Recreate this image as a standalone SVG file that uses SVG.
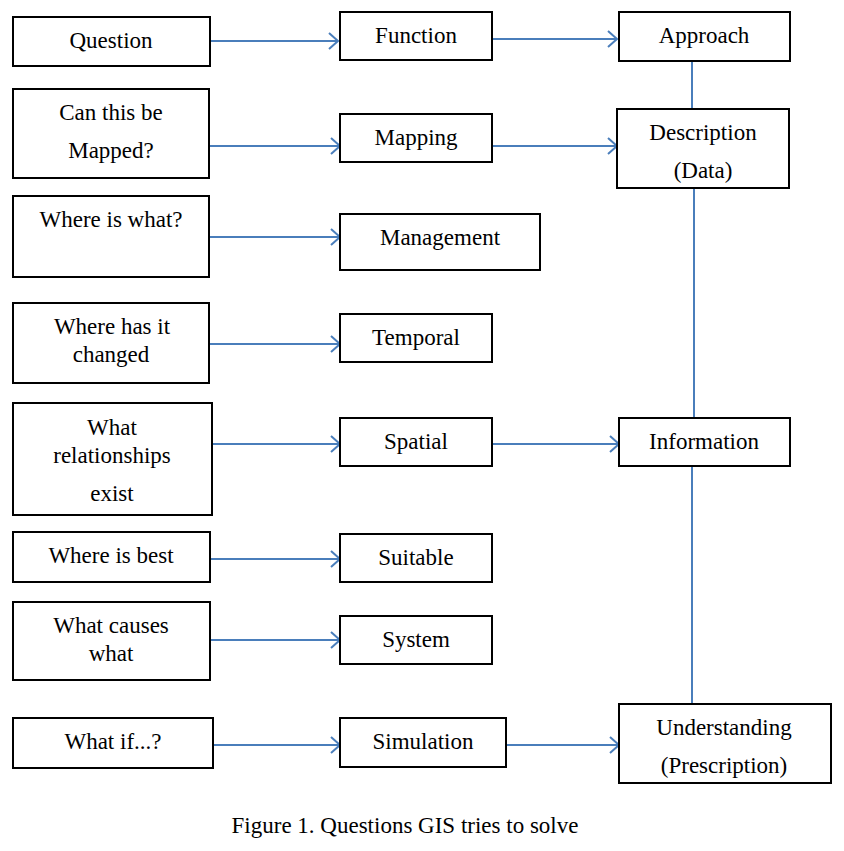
<svg xmlns="http://www.w3.org/2000/svg" width="844" height="851" viewBox="0 0 844 851">
<style>
.n rect{fill:#fff;stroke:#000;stroke-width:2}
text{font-family:"Liberation Serif",serif;font-size:23px;fill:#000;text-anchor:middle}
.c line{stroke:#4a7ebb;stroke-width:2;fill:none}
</style>
<defs>
<marker id="a" markerWidth="14" markerHeight="20" refX="11" refY="10" orient="auto" markerUnits="userSpaceOnUse">
<path d="M2,2 L11,10 L2,18" fill="none" stroke="#4a7ebb" stroke-width="2"/>
</marker>
</defs>
<rect width="844" height="851" fill="#fff"/>
<g class="c">
<line x1="210" y1="41" x2="338" y2="41" marker-end="url(#a)"/>
<line x1="488" y1="39" x2="617" y2="39" marker-end="url(#a)"/>
<line x1="209" y1="146" x2="340" y2="146" marker-end="url(#a)"/>
<line x1="492" y1="146" x2="617" y2="146" marker-end="url(#a)"/>
<line x1="209" y1="237" x2="340" y2="237" marker-end="url(#a)"/>
<line x1="209" y1="344" x2="340" y2="344" marker-end="url(#a)"/>
<line x1="212" y1="444" x2="340" y2="444" marker-end="url(#a)"/>
<line x1="492" y1="444" x2="619" y2="444" marker-end="url(#a)"/>
<line x1="210" y1="559" x2="340" y2="559" marker-end="url(#a)"/>
<line x1="210" y1="640" x2="340" y2="640" marker-end="url(#a)"/>
<line x1="213" y1="745" x2="340" y2="745" marker-end="url(#a)"/>
<line x1="506" y1="745" x2="619" y2="745" marker-end="url(#a)"/>
<line x1="692" y1="61" x2="692" y2="109"/>
<line x1="694" y1="188" x2="694" y2="418"/>
<line x1="692" y1="466" x2="692" y2="704"/>
</g>
<g class="n">
<g id="question"><rect x="13" y="17" width="197" height="49"/><text x="111" y="48">Question</text></g>
<g id="function"><rect x="340" y="12" width="152" height="48"/><text x="416" y="43">Function</text></g>
<g id="approach"><rect x="619" y="12" width="171" height="49"/><text x="704" y="43">Approach</text></g>
<g id="mapped"><rect x="13" y="89" width="196" height="89"/><text x="111" y="120">Can this be</text><text x="111" y="158">Mapped?</text></g>
<g id="mapping"><rect x="340" y="114" width="152" height="48"/><text x="416" y="145">Mapping</text></g>
<g id="description"><rect x="617" y="109" width="172" height="79"/><text x="703" y="140">Description</text><text x="703" y="178">(Data)</text></g>
<g id="whereiswhat"><rect x="13" y="196" width="196" height="81"/><text x="111" y="227">Where is what?</text></g>
<g id="management"><rect x="340" y="214" width="200" height="56"/><text x="440" y="245">Management</text></g>
<g id="changed"><rect x="13" y="303" width="196" height="80"/><text x="112" y="334">Where has it</text><text x="111" y="362">changed</text></g>
<g id="temporal"><rect x="340" y="314" width="152" height="48"/><text x="416" y="345">Temporal</text></g>
<g id="relationships"><rect x="13" y="403" width="199" height="112"/><text x="112" y="435">What</text><text x="112" y="463">relationships</text><text x="112" y="501">exist</text></g>
<g id="spatial"><rect x="340" y="418" width="152" height="48"/><text x="416" y="449">Spatial</text></g>
<g id="information"><rect x="619" y="418" width="171" height="48"/><text x="704" y="449">Information</text></g>
<g id="best"><rect x="13" y="532" width="197" height="50"/><text x="111" y="563">Where is best</text></g>
<g id="suitable"><rect x="340" y="534" width="152" height="48"/><text x="416" y="565">Suitable</text></g>
<g id="causes"><rect x="13" y="602" width="197" height="78"/><text x="111" y="633">What causes</text><text x="111" y="661">what</text></g>
<g id="system"><rect x="340" y="616" width="152" height="48"/><text x="416" y="647">System</text></g>
<g id="whatif"><rect x="13" y="718" width="200" height="50"/><text x="113" y="749">What if...?</text></g>
<g id="simulation"><rect x="340" y="718" width="166" height="49"/><text x="423" y="749">Simulation</text></g>
<g id="understanding"><rect x="619" y="704" width="212" height="79"/><text x="724" y="735">Understanding</text><text x="724" y="773">(Prescription)</text></g>
</g>
<text x="405" y="833">Figure 1. Questions GIS tries to solve</text>
</svg>
